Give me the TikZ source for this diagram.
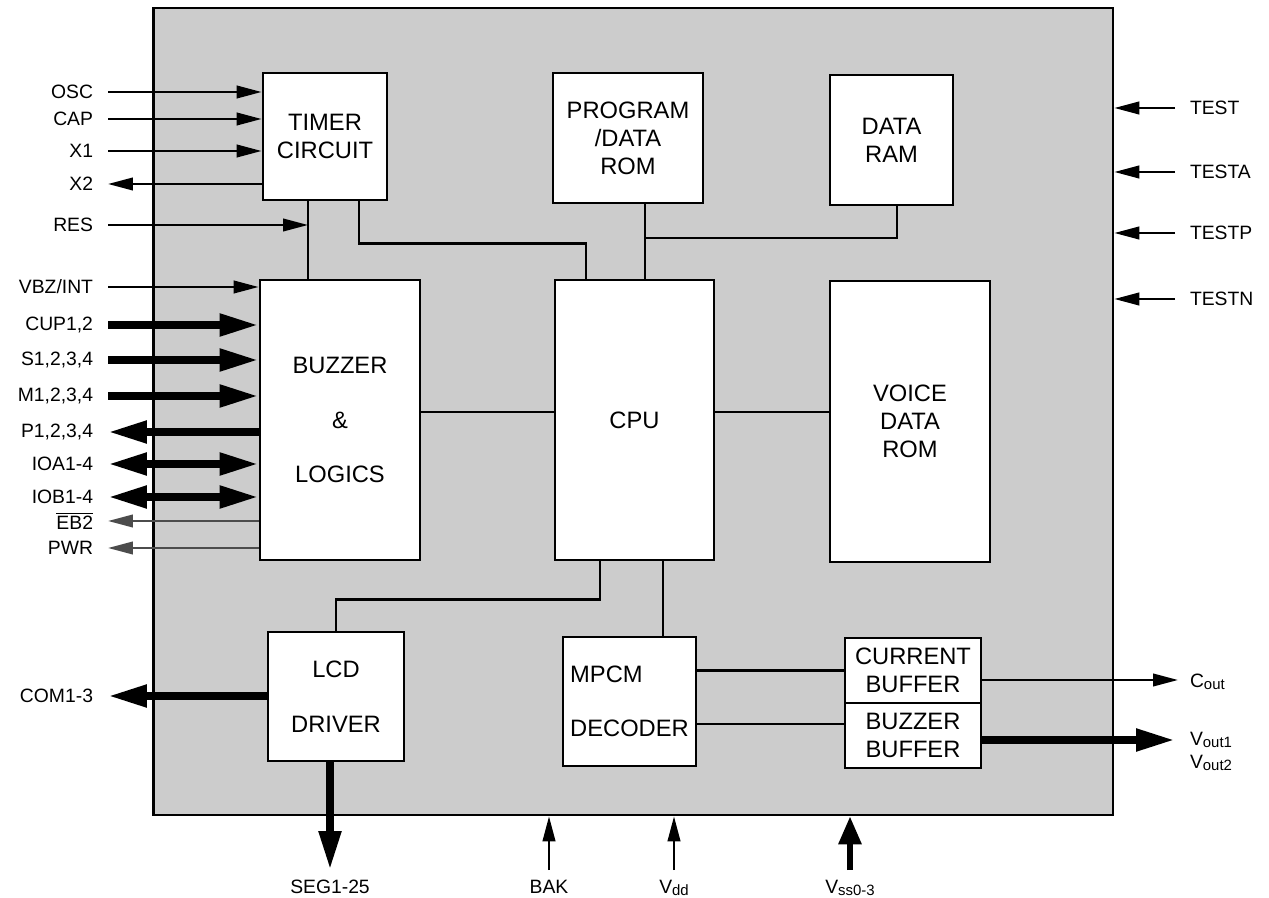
\documentclass[tikz,border=0pt]{standalone}
\usepackage{fontspec}
\setmainfont{Liberation Sans}
\usetikzlibrary{arrows.meta,positioning,calc}
\newcommand{\pinsub}[1]{\raisebox{-1pt}{\fontsize{8.5}{9}\selectfont #1}}

\begin{document}
\begin{tikzpicture}[x=0.02cm,y=-0.02cm,
      every node/.style={font=\fontsize{11}{13}\selectfont},
      chipbox/.style={draw,line width=1.6pt,fill=black!20,minimum width=19.2cm,minimum height=16.14cm,inner sep=0pt},
      blk/.style={draw,line width=1.6pt,fill=white,align=center,inner sep=2pt,font=\fontsize{13.5}{16}\selectfont},
      wire/.style={line width=1.3pt},
      thn/.tip={Triangle[length=0.5cm,width=0.25cm]},
      thk/.tip={Triangle[length=0.78cm,width=0.42cm]},
      arr/.style={-thn,line width=1.4pt},
      bigarr/.style={-thk,line width=4.5pt},
      botharr/.style={thk-thk,line width=4.5pt},
      vssarr/.style={-{Triangle[length=0.56cm,width=0.44cm]},line width=3.4pt},
      pinl/.style={anchor=east,inner sep=0pt,outer xsep=0.3cm},
      pinr/.style={anchor=west,inner sep=0pt,outer xsep=0.3cm},
      pinb/.style={anchor=north,inner sep=0pt,outer ysep=0.2cm}
  ]
    \useasboundingbox (0,0) rectangle (1269,898);
    \node[chipbox] (chip) at (633,411.5) {};

    % blocks
    \node[blk,minimum width=2.48cm,minimum height=2.54cm] (timer) at (325,136.5) {TIMER\\CIRCUIT};
    \node[blk,minimum width=3.0cm,minimum height=2.6cm] (prom) at (628,138) {PROGRAM\\/DATA\\ROM};
    \node[blk,minimum width=2.46cm,minimum height=2.6cm] (dram) at (891.5,140) {DATA\\RAM};
    \node[blk,minimum width=3.2cm,minimum height=5.6cm] (buzz) at (340,420) {BUZZER\\[15pt]\&\\[15pt]LOGICS};
    \node[blk,minimum width=3.18cm,minimum height=5.6cm] (cpu) at (634.5,420) {CPU};
    \node[blk,minimum width=3.2cm,minimum height=5.62cm] (voice) at (910,421.5) {VOICE\\DATA\\ROM};
    \node[blk,minimum width=2.72cm,minimum height=2.58cm] (lcd) at (336,696.5) {LCD\\[15pt]DRIVER};
    \node[blk,minimum width=2.66cm,minimum height=2.58cm,align=left] (mpcm) at (629.5,701.5) {MPCM\\[15pt]DECODER};
    \node[blk,minimum width=2.72cm,minimum height=1.3cm] (curbuf) at (913,670.5) {CURRENT\\BUFFER};
    \node[blk,minimum width=2.72cm,minimum height=1.3cm] (bzbuf) at (913,735.5) {BUZZER\\BUFFER};

    % internal buses
    \coordinate (tb) at ([xshift=-0.34cm]timer.south);
    \draw[wire] (tb) -- (tb |- buzz.north);
    \draw[wire] ([xshift=0.68cm]timer.south) -- ++(0,42) -| ([xshift=-0.97cm]cpu.north);
    \coordinate (pb) at (645,238);
    \draw[wire] (prom.south -| pb) -- (cpu.north -| pb);
    \draw[wire] (pb) -| ([xshift=0.11cm]dram.south);
    \draw[wire] ([yshift=0.16cm]buzz.east) coordinate (bc) -- (bc -| cpu.west);
    \draw[wire] ([yshift=0.16cm]cpu.east) coordinate (cv) -- (cv -| voice.west);
    \draw[wire] ([xshift=-0.69cm]cpu.south) -- ++(0,38) -| (lcd.north);
    \draw[wire] ([xshift=0.57cm]cpu.south) coordinate (cm) -- (cm |- mpcm.north);
    \draw[wire] (curbuf.west -| mpcm.east) -- (curbuf.west);
    \draw[wire] ([yshift=0.23cm]bzbuf.west) coordinate (bb) -- (bb -| mpcm.east);

    % left pins
    \node[pinl] (osc) at (108,92) {OSC};
    \node[pinl] (cap) at (108,119) {CAP};
    \node[pinl] (xa) at (108,151) {X1};
    \node[pinl] (xb) at (108,184) {X2};
    \node[pinl] (res) at (108,225) {RES};
    \node[pinl] (vbz) at (108,287) {VBZ/INT};
    \node[pinl] (cup) at (108,325) {CUP1,2};
    \node[pinl] (sw) at (108,360) {S1,2,3,4};
    \node[pinl] (mw) at (108,396) {M1,2,3,4};
    \node[pinl] (pw) at (108,432) {P1,2,3,4};
    \node[pinl] (ioa) at (108,464) {IOA1-4};
    \node[pinl] (iob) at (108,497) {IOB1-4};
    \node[pinl] (eb) at (108,521) {$\overline{\hbox{EB2}}$};
    \node[pinl] (pwr) at (108,548) {PWR};
    \node[pinl] (com) at (108,696) {COM1-3};

    \draw[arr] (osc.east) -- (osc.east -| timer.west);
    \draw[arr] (cap.east) -- (cap.east -| timer.west);
    \draw[arr] (xa.east) -- (xa.east -| timer.west);
    \draw[arr] (xb.east -| timer.west) -- (xb.east);
    \draw[arr] (res.east) -- (res.east -| tb);
    \draw[arr] (vbz.east) -- (vbz.east -| buzz.west);
    \draw[bigarr] (cup.east) -- (cup.east -| buzz.west);
    \draw[bigarr] (sw.east) -- (sw.east -| buzz.west);
    \draw[bigarr] (mw.east) -- (mw.east -| buzz.west);
    \draw[bigarr] (pw.east -| buzz.west) -- (pw.east);
    \draw[botharr] (ioa.east) -- (ioa.east -| buzz.west);
    \draw[botharr] (iob.east) -- (iob.east -| buzz.west);
    \draw[arr,black!70] (eb.east -| buzz.west) -- (eb.east);
    \draw[arr,black!70] (pwr.east -| buzz.west) -- (pwr.east);
    \draw[bigarr] (com.east -| lcd.west) -- (com.east);

    % right pins
    \node[pinr] (test) at (1175,108) {TEST};
    \node[pinr] (testa) at (1175,172) {TESTA};
    \node[pinr] (testp) at (1175,233) {TESTP};
    \node[pinr] (testn) at (1175,299) {TESTN};
    \foreach \p in {test,testa,testp,testn}
      \draw[arr] (\p.west) -- (\p.west -| chip.east);

    \node[pinr,outer xsep=0.24cm] (cout) at (1178,682) {C\pinsub{out}};
    \node[pinr] (voa) at (1175,740) {V\pinsub{out1}};
    \node[pinr] (vob) at (1175,763) {V\pinsub{out2}};
    \draw[arr] ([yshift=-0.19cm]curbuf.east) coordinate (co) -- (co -| cout.west);
    \draw[bigarr] (voa.west -| bzbuf.east) -- (voa.west);

    % bottom pins
    \node[pinb] (seg) at (330,870) {SEG1-25};
    \node[pinb] (bak) at (549,870) {BAK};
    \node[pinb] (vdd) at (674,870) {V\pinsub{dd}};
    \node[pinb] (vss) at (850,870) {V\pinsub{ss0-3}};
    \draw[bigarr] (seg.north |- lcd.south) -- (seg.north);
    \draw[arr] (bak.north) -- (bak.north |- chip.south);
    \draw[arr] (vdd.north) -- (vdd.north |- chip.south);
    \draw[vssarr] (vss.north) -- (vss.north |- chip.south);
  \end{tikzpicture}
\end{document}
